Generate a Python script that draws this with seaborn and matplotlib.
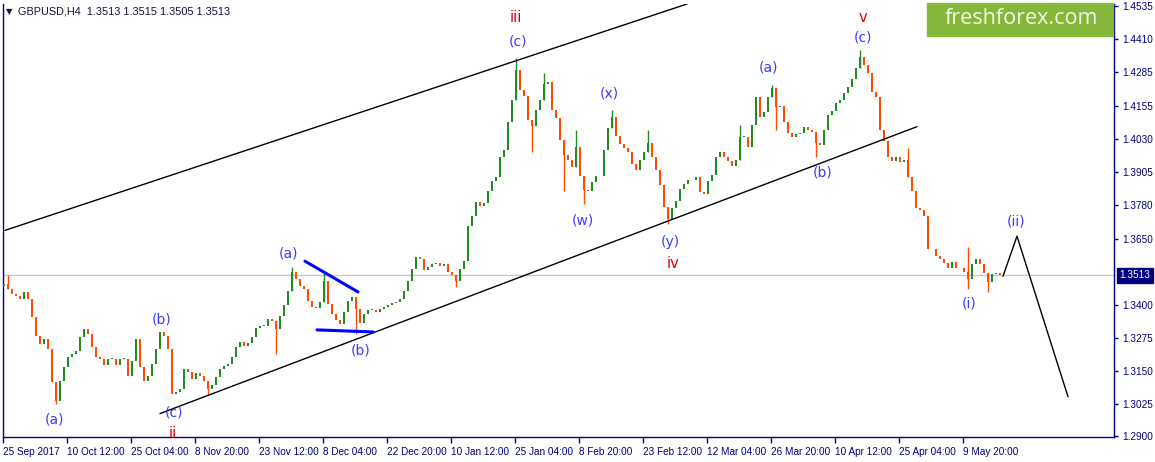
import numpy as np
import pandas as pd
import matplotlib
matplotlib.use("Agg")
import matplotlib.pyplot as plt
import seaborn as sns

# ---------------- data ----------------
close = [
    1.3479, 1.3460, 1.3441, 1.3434, 1.3422, 1.3449, 1.3422, 1.3354, 1.3282, 1.3252,
    1.3271, 1.3233, 1.3108, 1.3036, 1.3112, 1.3165, 1.3203, 1.3214, 1.3225, 1.3278,
    1.3309, 1.3290, 1.3240, 1.3203, 1.3195, 1.3172, 1.3195, 1.3195, 1.3172, 1.3195,
    1.3195, 1.3131, 1.3187, 1.3271, 1.3165, 1.3112, 1.3131, 1.3176, 1.3233, 1.3297,
    1.3282, 1.3233, 1.3063, 1.3070, 1.3082, 1.3157, 1.3146, 1.3119, 1.3142, 1.3131,
    1.3112, 1.3082, 1.3097, 1.3127, 1.3157, 1.3169, 1.3176, 1.3203, 1.3240, 1.3259,
    1.3244, 1.3256, 1.3278, 1.3312, 1.3320, 1.3320, 1.3346, 1.3339, 1.3309, 1.3358,
    1.3399, 1.3452, 1.3524, 1.3498, 1.3471, 1.3460, 1.3415, 1.3392, 1.3388, 1.3411,
    1.3490, 1.3403, 1.3365, 1.3343, 1.3328, 1.3373, 1.3415, 1.3430, 1.3384, 1.3331,
    1.3365, 1.3381, 1.3381, 1.3373, 1.3384, 1.3392, 1.3399, 1.3407, 1.3411, 1.3422,
    1.3452, 1.3490, 1.3536, 1.3581, 1.3574, 1.3532, 1.3543, 1.3555, 1.3558, 1.3547,
    1.3555, 1.3524, 1.3513, 1.3490, 1.3536, 1.3566, 1.3698, 1.3736, 1.3789, 1.3774,
    1.3786, 1.3831, 1.3869, 1.3884, 1.3963, 1.3990, 1.4096, 1.4179, 1.4293, 1.4217,
    1.4194, 1.4103, 1.4081, 1.4141, 1.4179, 1.4240, 1.4247, 1.4141, 1.4111, 1.4028,
    1.3971, 1.3952, 1.3922, 1.4001, 1.3888, 1.3835, 1.3831, 1.3865, 1.3888, 1.3888,
    1.3990, 1.4073, 1.4115, 1.4043, 1.4013, 1.3997, 1.3979, 1.3937, 1.3914, 1.3952,
    1.3979, 1.4016, 1.3960, 1.3914, 1.3857, 1.3770, 1.3725, 1.3767, 1.3793, 1.3839,
    1.3861, 1.3876, 1.3873, 1.3884, 1.3827, 1.3823, 1.3869, 1.3895, 1.3963, 1.3979,
    1.3960, 1.3948, 1.3929, 1.3952, 1.4039, 1.4039, 1.4001, 1.4085, 1.4191, 1.4115,
    1.4134, 1.4191, 1.4225, 1.4153, 1.4156, 1.4096, 1.4054, 1.4039, 1.4050, 1.4054,
    1.4077, 1.4066, 1.4058, 1.4016, 1.4009, 1.4066, 1.4122, 1.4138, 1.4168, 1.4179,
    1.4206, 1.4228, 1.4259, 1.4300, 1.4342, 1.4312, 1.4281, 1.4209, 1.4191, 1.4066,
    1.4024, 1.3963, 1.3948, 1.3960, 1.3941, 1.3952, 1.3884, 1.3831, 1.3767, 1.3759,
    1.3736, 1.3611, 1.3611, 1.3585, 1.3574, 1.3558, 1.3539, 1.3562, 1.3539, 1.3539,
    1.3524, 1.3498, 1.3555, 1.3574, 1.3555, 1.3521, 1.3487, 1.3517, 1.3521, 1.3513,
]
first_open = 1.3470
last_price = 1.3513

# notable wick extremes (bar index, price)
spike_bar = [1, 13, 51, 68, 72, 80, 88, 113, 128, 132, 135, 140, 143, 145, 152,
             161, 166, 184, 192, 193, 203, 214, 226, 241, 241, 246]
spike_price = [1.3513, 1.3025, 1.3060, 1.3214, 1.3543, 1.3524, 1.3290, 1.3468, 1.4338,
               1.3979, 1.4281, 1.3831, 1.4066, 1.3782, 1.4141, 1.4066, 1.3706, 1.4085,
               1.4236, 1.4066, 1.3963, 1.4368, 1.3997, 1.3460, 1.3619, 1.3449]

price_ticks = [1.2900, 1.3025, 1.3150, 1.3275, 1.3400, 1.3650, 1.3780, 1.3905,
               1.4030, 1.4155, 1.4285, 1.4410, 1.4535]
date_labels = ["25 Sep 2017", "10 Oct 12:00", "25 Oct 04:00", "8 Nov 20:00",
               "23 Nov 12:00", "8 Dec 04:00", "22 Dec 20:00", "10 Jan 12:00",
               "25 Jan 04:00", "8 Feb 20:00", "23 Feb 12:00", "12 Mar 04:00",
               "26 Mar 20:00", "10 Apr 12:00", "25 Apr 04:00", "9 May 20:00"]
date_bars = [0, 16, 32, 48, 64, 80, 96, 112, 128, 144, 160, 176, 192, 208, 224, 240]

# wave labels (text, bar index, price)
wave_text = ["(a)", "(b)", "(c)", "(a)", "(b)", "(c)", "(w)", "(x)", "(y)",
             "(a)", "(b)", "(c)", "(i)", "(ii)"]
wave_bar = [12.75, 39.5, 42.5, 71.25, 89.25, 128.5, 144.75, 151.25, 166.5,
            191.25, 204.75, 214.75, 241.25, 253.0]
wave_price = [1.2964, 1.3343, 1.2991, 1.3596, 1.3225, 1.4399, 1.3721, 1.4202, 1.3638,
              1.4300, 1.3903, 1.4414, 1.3407, 1.3717]
major_text = ["ii", "iii", "iv", "v"]
major_bar = [42.25, 128.0, 167.25, 214.75]
major_price = [1.2911, 1.4493, 1.3558, 1.4490]

# channel lines
upper_bar = [0.25, 170.75]
upper_price = [1.3683, 1.4543]
lower_bar = [39.0, 228.25]
lower_price = [1.2987, 1.4077]
# triangle lines
tri_top_bar = [75.25, 88.5]
tri_top_price = [1.3566, 1.3449]
tri_bot_bar = [78.25, 92.25]
tri_bot_price = [1.3305, 1.3297]
# forecast path
fc_bar = [249.75, 253.25, 266.0]
fc_price = [1.3509, 1.3661, 1.3051]

# ---------------- figure ----------------
sns.set_style("white")
plt.rcParams['font.family'] = ['Liberation Sans', 'DejaVu Sans']

W, H = 1155, 462
fig = plt.figure(figsize=(W / 100, H / 100), dpi=100)
fig.patch.set_facecolor("white")
ax = fig.add_axes([3 / W, (H - 437) / H, (1114 - 3) / W, (437 - 4) / H])
ax.set_facecolor("white")

n = len(close)
opens = [first_open] + close[:-1]
df = pd.DataFrame({"bar": np.arange(n), "open": opens, "close": close})
df["lo"] = df[["open", "close"]].min(axis=1)
df["hi"] = df[["open", "close"]].max(axis=1)
df["h"] = (df["hi"] - df["lo"]).clip(lower=0.00025)
up_col, dn_col = "#228b22", "#ff4c00"
cols = [up_col if c >= o else dn_col for o, c in zip(df["open"], df["close"])]

# current price line
ax.axhline(last_price, color="#c8c8c8", lw=1, zorder=1)

ax.bar(df["bar"], df["h"], bottom=df["lo"], width=0.72, color=cols,
       linewidth=0, zorder=3)

# wicks to notable extremes
for b, p in zip(spike_bar, spike_price):
    lo, hi = df.loc[b, "lo"], df.loc[b, "hi"]
    ax.vlines(b, min(lo, p), max(hi, p), color=cols[b], lw=1, zorder=3)

navy = "#000080"
black = "black"
sns.lineplot(x=upper_bar, y=upper_price, ax=ax, color=black, lw=1, zorder=4)
sns.lineplot(x=lower_bar, y=lower_price, ax=ax, color=black, lw=1, zorder=4)
sns.lineplot(x=tri_top_bar, y=tri_top_price, ax=ax, color="#0000ff", lw=2.2, zorder=5)
sns.lineplot(x=tri_bot_bar, y=tri_bot_price, ax=ax, color="#0000ff", lw=2.2, zorder=5)
sns.lineplot(x=fc_bar, y=fc_price, ax=ax, color=black, lw=1, zorder=4, sort=False)

for t, b, p in zip(wave_text, wave_bar, wave_price):
    ax.text(b, p, t, color="#3a3aff", fontsize=10, ha="center", va="center",
            family="DejaVu Sans", zorder=6)
for t, b, p in zip(major_text, major_bar, major_price):
    ax.text(b, p, t, color="#e00000", fontsize=10.5, ha="center", va="center",
            family="DejaVu Sans", zorder=6)

ax.set_xlim(-0.25, 277.5)
ax.set_ylim(1.2898, 1.4543)

# axes styling
ax.spines["top"].set_visible(False)
for s in ["left", "right", "bottom"]:
    ax.spines[s].set_color(navy)
    ax.spines[s].set_linewidth(1)

ax.yaxis.tick_right()
ax.set_yticks(price_ticks)
ax.set_yticklabels([f"{v:.4f}" for v in price_ticks])
ax.tick_params(axis="y", direction="out", length=3, width=1, color=navy,
               labelcolor=navy, labelsize=7.2, pad=3, right=True, left=False)

ax.set_xticks([b - 0.25 for b in date_bars])
ax.set_xticklabels(date_labels)
ax.tick_params(axis="x", direction="out", length=4, width=1, color=navy,
               labelcolor=navy, labelsize=7.2, pad=3, bottom=True)
for lbl in ax.get_xticklabels():
    lbl.set_horizontalalignment("left")

# current price tag
ax.annotate(f"{last_price:.4f}", xy=(1.0, last_price), xycoords=("axes fraction", "data"),
            xytext=(4, 0), textcoords="offset points", color="white", fontsize=7.2,
            va="center", ha="left", annotation_clip=False,
            bbox=dict(boxstyle="square,pad=0.25", fc=navy, ec=navy))

# header
fig.text(6 / W, 1 - 12 / H, "\u25bc", color="#101040", fontsize=6, va="center", ha="left",
         family="DejaVu Sans")
fig.text(18 / W, 1 - 12 / H, "GBPUSD,H4  1.3513 1.3515 1.3505 1.3513", color="#101040",
         fontsize=7.8, va="center", ha="left")

# logo
fig.patches.append(matplotlib.patches.Rectangle((927 / W, 1 - 36 / H), (1113 - 927) / W, 33 / H,
                                               transform=fig.transFigure, color="#84b73a",
                                               zorder=10))
fig.text(1021 / W, 1 - 19 / H, "freshforex.com", color="#f2f8e6", fontsize=15.5,
         family="Open Sans", ha="center", va="center", zorder=11)

fig.savefig("out.png", dpi=100, facecolor="white")
